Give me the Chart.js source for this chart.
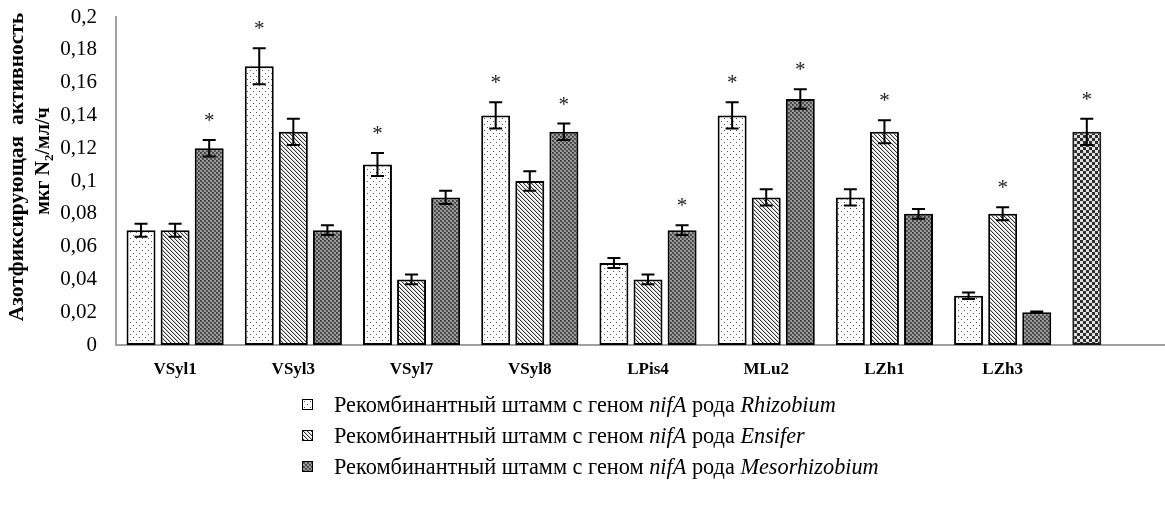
<!DOCTYPE html>
<html>
<head>
<meta charset="utf-8">
<script src="https://cdn.jsdelivr.net/npm/chart.js@4.4.1/dist/chart.umd.min.js"></script>
<style>
  html, body { margin: 0; padding: 0; background: #fff; overflow: hidden; width: 1165px; height: 508px; }
  #wrap { position: absolute; left: 0; top: 0; width: 1180px; height: 508px; }
  #legend { position: absolute; left: 302px; top: 389px; font-family: "Liberation Serif", "Times New Roman", serif; font-size: 22.3px; color: #000; }
  .row { display: flex; align-items: center; height: 31px; white-space: nowrap; }
  .sw { width: 9px; height: 9px; border: 1px solid #000; margin-right: 21px; flex: none; }
</style>
</head>
<body>
<div id="wrap"><canvas id="c"></canvas></div>
<div id="legend"></div>
<script>
// Strains on the x axis (the last group has no caption)
const categories = ['VSyl1', 'VSyl3', 'VSyl7', 'VSyl8', 'LPis4', 'MLu2', 'LZh1', 'LZh3', ''];

// Nitrogen-fixing activity, µg N2 / ml / h
const rhizobium     = [0.07, 0.17, 0.11, 0.14, 0.05, 0.14, 0.09, 0.03, 0.13];
const ensifer       = [0.07, 0.13, 0.04, 0.10, 0.04, 0.09, 0.13, 0.08, null];
const mesorhizobium = [0.12, 0.07, 0.09, 0.13, 0.07, 0.15, 0.08, 0.02, null];

// Standard errors
const rhizobiumErr     = [0.004, 0.011, 0.007, 0.008, 0.003, 0.008, 0.005, 0.002, 0.008];
const ensiferErr       = [0.004, 0.008, 0.003, 0.006, 0.003, 0.005, 0.007, 0.004, null];
const mesorhizobiumErr = [0.005, 0.003, 0.004, 0.005, 0.003, 0.006, 0.003, 0.0005, null];

// Significant differences (*)
const rhizobiumSig     = [0, 1, 1, 1, 0, 1, 0, 0, 1];
const ensiferSig       = [0, 0, 0, 0, 0, 0, 1, 1, 0];
const mesorhizobiumSig = [1, 0, 0, 1, 1, 1, 0, 0, 0];

const yTickLabels = ['0', '0,02', '0,04', '0,06', '0,08', '0,1', '0,12', '0,14', '0,16', '0,18', '0,2'];

// Legend captions: [text, italic] segments
const legendRhizobium     = [['Рекомбинантный штамм с геном ', false], ['nifA', true], [' рода ', false], ['Rhizobium', true]];
const legendEnsifer       = [['Рекомбинантный штамм с геном ', false], ['nifA', true], [' рода ', false], ['Ensifer', true]];
const legendMesorhizobium = [['Рекомбинантный штамм с геном ', false], ['nifA', true], [' рода ', false], ['Mesorhizobium', true]];

const SERIF = '"Liberation Serif", "Times New Roman", serif';

// ---- hatch tiles ----
function tile(w, h, paint) {
  const c = document.createElement('canvas');
  c.width = w; c.height = h;
  const g = c.getContext('2d');
  paint(g);
  return c;
}
const dotTile = tile(6, 6, g => {
  g.fillStyle = '#fff'; g.fillRect(0, 0, 6, 6);
  g.fillStyle = '#555'; g.fillRect(1, 1, 1, 1); g.fillRect(4, 4, 1, 1);
});
const stripeTile = tile(4, 4, g => {
  g.fillStyle = '#fff'; g.fillRect(0, 0, 4, 4);
  g.fillStyle = '#c8c8c8';
  for (let i = 0; i < 4; i++) g.fillRect((i + 1) % 4, i, 1, 1);
  g.fillStyle = '#333';
  for (let i = 0; i < 4; i++) g.fillRect(i, i, 1, 1);
});
const darkTile = tile(4, 4, g => {
  g.fillStyle = '#9a9a9a'; g.fillRect(0, 0, 4, 4);
  g.fillStyle = '#505050'; g.fillRect(0, 0, 2, 2); g.fillRect(2, 2, 2, 2);
  g.fillStyle = '#3a3a3a'; g.fillRect(0, 0, 1, 1); g.fillRect(2, 2, 1, 1);
});
const checkTile = tile(6, 6, g => {
  g.fillStyle = '#e2e2e2'; g.fillRect(0, 0, 6, 6);
  g.fillStyle = '#2e2e2e'; g.fillRect(0, 0, 3, 3); g.fillRect(3, 3, 3, 3);
});

const ctx = document.getElementById('c').getContext('2d');
const pDots = ctx.createPattern(dotTile, 'repeat');
const pStripes = ctx.createPattern(stripeTile, 'repeat');
const pDark = ctx.createPattern(darkTile, 'repeat');
const pCheck = ctx.createPattern(checkTile, 'repeat');

const rhizobiumFill = rhizobium.map((v, i) => i === categories.length - 1 ? pCheck : pDots);
const rhizobiumEdge = rhizobium.map((v, i) => i === categories.length - 1 ? '#1a1a1a' : '#000');

// ---- error bars and asterisks ----
const errorBars = {
  id: 'errorBars',
  afterDatasetsDraw(chart) {
    const c = chart.ctx, y = chart.scales.y;
    chart.data.datasets.forEach((ds, di) => {
      const meta = chart.getDatasetMeta(di);
      meta.data.forEach((bar, i) => {
        const v = ds.data[i];
        if (v == null) return;
        const e = ds.errors[i] || 0;
        const top = y.getPixelForValue(v + e);
        const bot = y.getPixelForValue(v - e);
        c.save();
        c.strokeStyle = '#000';
        c.lineWidth = 2;
        c.beginPath();
        c.moveTo(bar.x, top); c.lineTo(bar.x, bot);
        c.moveTo(bar.x - 6.5, top); c.lineTo(bar.x + 6.5, top);
        c.moveTo(bar.x - 6.5, bot); c.lineTo(bar.x + 6.5, bot);
        c.stroke();
        if (ds.sig[i]) {
          c.fillStyle = '#222';
          c.font = '21px ' + SERIF;
          c.textAlign = 'center';
          c.textBaseline = 'alphabetic';
          c.fillText('*', bar.x, top - 13);
        }
        c.restore();
      });
    });
  }
};

// ---- rotated y-axis caption ----
const yCaption = {
  id: 'yCaption',
  afterDraw(chart) {
    const c = chart.ctx;
    c.save();
    c.fillStyle = '#000';
    c.textBaseline = 'middle';
    c.font = 'bold 21.5px ' + SERIF;
    c.translate(17, 167);
    c.rotate(-Math.PI / 2);
    c.textAlign = 'center';
    c.fillText('Азотфиксирующая  активность', 0, 0);
    c.restore();

    c.save();
    c.fillStyle = '#000';
    c.textBaseline = 'middle';
    c.translate(44, 161);
    c.rotate(-Math.PI / 2);
    const segs = [['мкг N', 'bold 20px ', 0], ['2', 'bold 13px ', 6], ['/мл/ч', 'bold 20px ', 0]];
    let total = 0;
    segs.forEach(s => { c.font = s[1] + SERIF; total += c.measureText(s[0]).width; });
    let x = -total / 2;
    c.textAlign = 'left';
    segs.forEach(s => {
      c.font = s[1] + SERIF;
      c.fillText(s[0], x, s[2]);
      x += c.measureText(s[0]).width;
    });
    c.restore();
  }
};

new Chart(ctx, {
  type: 'bar',
  data: {
    labels: categories,
    datasets: [
      { label: 'Rhizobium', data: rhizobium, errors: rhizobiumErr, sig: rhizobiumSig,
        backgroundColor: rhizobiumFill, borderColor: rhizobiumEdge },
      { label: 'Ensifer', data: ensifer, errors: ensiferErr, sig: ensiferSig,
        backgroundColor: pStripes, borderColor: '#000' },
      { label: 'Mesorhizobium', data: mesorhizobium, errors: mesorhizobiumErr, sig: mesorhizobiumSig,
        backgroundColor: pDark, borderColor: '#000' }
    ]
  },
  options: {
    responsive: true,
    maintainAspectRatio: false,
    animation: false,
    layout: { padding: { top: 17, left: 0, right: 0, bottom: 0 } },
    datasets: {
      bar: { borderWidth: 2, borderSkipped: false, categoryPercentage: 0.865, barPercentage: 0.85 }
    },
    plugins: { legend: { display: false }, tooltip: { enabled: false } },
    scales: {
      x: {
        grid: { display: false },
        border: { display: true, color: '#a0a0a0', width: 2 },
        ticks: { color: '#000', font: { family: SERIF, size: 17, weight: 'bold' }, padding: 6, maxRotation: 0, autoSkip: false },
        afterFit(s) { s.height = 163; s.paddingLeft = 0; s.paddingRight = 0; }
      },
      y: {
        min: 0, max: 0.2,
        grid: { display: false, drawTicks: false },
        border: { display: true, color: '#a0a0a0', width: 2 },
        ticks: {
          stepSize: 0.02, color: '#000', padding: 19,
          font: { family: SERIF, size: 21 },
          callback: (v, i) => yTickLabels[i]
        },
        afterFit(s) { s.width = 116; s.paddingTop = 0; s.paddingBottom = 0; }
      }
    }
  },
  plugins: [errorBars, yCaption]
});

// ---- legend ----
const legendEl = document.getElementById('legend');
[[legendRhizobium, dotTile], [legendEnsifer, stripeTile], [legendMesorhizobium, darkTile]].forEach(([segs, t]) => {
  const row = document.createElement('div');
  row.className = 'row';
  const sw = document.createElement('span');
  sw.className = 'sw';
  sw.style.backgroundImage = 'url(' + t.toDataURL() + ')';
  row.appendChild(sw);
  const txt = document.createElement('span');
  segs.forEach(([s, it]) => {
    const part = document.createElement(it ? 'i' : 'span');
    part.textContent = s;
    txt.appendChild(part);
  });
  row.appendChild(txt);
  legendEl.appendChild(row);
});
</script>
</body>
</html>
